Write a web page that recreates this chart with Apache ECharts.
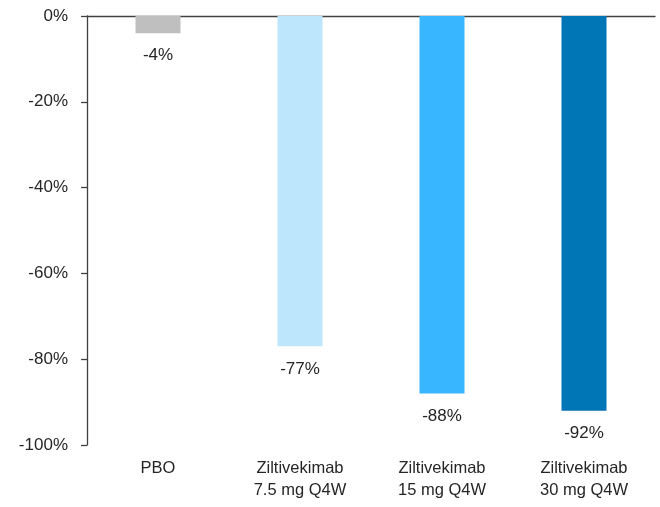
<!DOCTYPE html>
<html>
<head>
<meta charset="utf-8">
<script src="https://cdn.jsdelivr.net/npm/echarts@6/dist/echarts.min.js"></script>
<style>
  html, body { margin: 0; padding: 0; background: #fff; }
  #chart { width: 660px; height: 507px; }
</style>
</head>
<body>
<div id="chart"></div>
<script>
// 分类与数值
var categories = ['PBO', 'Ziltivekimab\n7.5 mg Q4W', 'Ziltivekimab\n15 mg Q4W', 'Ziltivekimab\n30 mg Q4W'];
var values = [-4, -77, -88, -92];
var barColors = ['#BFBFBF', '#BDE5FB', '#38B6FF', '#0076B6'];

var chart = echarts.init(document.getElementById('chart'));

var font = 'Liberation Sans, Arial, sans-serif';

var option = {
  backgroundColor: '#ffffff',
  animation: false,
  grid: { left: 87, right: 5, top: 16, bottom: 62 },
  xAxis: [
    {
      type: 'category',
      data: categories,
      position: 'bottom',
      axisLine: { show: false, onZero: false },
      axisTick: { show: false },
      axisLabel: {
        color: '#262626',
        fontSize: 16.5,
        fontFamily: font,
        lineHeight: 22,
        margin: 12
      }
    },
    {
      // 顶部 0% 轴线
      type: 'category',
      data: categories,
      position: 'top',
      axisLine: { show: true, onZero: false, lineStyle: { color: '#404040', width: 1.3 } },
      axisTick: { show: false },
      axisLabel: { show: false }
    }
  ],
  yAxis: {
    type: 'value',
    min: -100,
    max: 0,
    interval: 20,
    axisLine: { show: true, lineStyle: { color: '#404040', width: 1.3 } },
    axisTick: { show: true, length: 6, lineStyle: { color: '#404040', width: 1.3 } },
    splitLine: { show: false },
    axisLabel: {
      formatter: '{value}%',
      color: '#262626',
      fontSize: 17,
      fontFamily: font,
      margin: 19
    }
  },
  series: [{
    type: 'bar',
    xAxisIndex: 0,
    barWidth: 45,
    data: values.map(function (v, i) {
      return { value: v, itemStyle: { color: barColors[i] } };
    }),
    label: {
      show: true,
      position: 'bottom',
      distance: 14,
      formatter: '{c}%',
      color: '#262626',
      fontSize: 17,
      fontFamily: font
    }
  }]
};

chart.setOption(option);
</script>
</body>
</html>
